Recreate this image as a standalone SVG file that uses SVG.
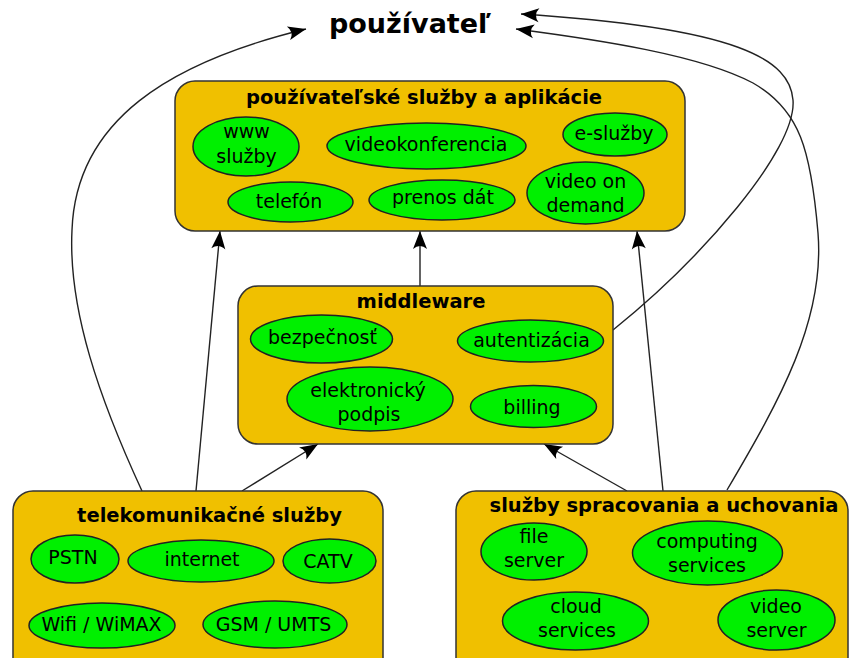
<svg xmlns="http://www.w3.org/2000/svg" width="850" height="658" viewBox="0 0 850 658">
  <defs>
    <marker id="arrow" markerUnits="userSpaceOnUse" viewBox="-19 -8 20 16" refX="0" refY="0" markerWidth="20" markerHeight="16" orient="auto">
      <path d="M0,0 L-18,-7 Q-12,0 -18,7 Z" fill="#000"/>
    </marker>
  </defs>
  <style>
    .box { fill: #f0c000; stroke: #333; stroke-width: 1.5; }
    .ell { fill: #00f000; stroke: #222; stroke-width: 1.5; }
    .t { font-family: "DejaVu Sans", Verdana, sans-serif; font-size: 19px; fill: #000; text-anchor: middle; }
    .h { font-family: "DejaVu Sans", Verdana, sans-serif; font-size: 19.5px; font-weight: bold; fill: #000; text-anchor: middle; }
    .c { fill: none; stroke: #222; stroke-width: 1.4; marker-end: url(#arrow); }
  </style>
  <rect width="850" height="658" fill="#fff"/>

  <!-- connectors -->
  <g id="connectors">
    <path class="c" d="M142,491 C100,400 68,310 72,230 C76,120 170,62 306,29"/>
    <path class="c" d="M196,491 L220,231"/>
    <path class="c" d="M242,491 L318,444"/>
    <path class="c" d="M420,286 L420,231"/>
    <path class="c" d="M663,491 L637,231"/>
    <path class="c" d="M627,491 L544,444"/>
    <path class="c" d="M613,330 C700,260 797,150 793,100 C790,60 740,28 521,14"/>
    <path class="c" d="M727,490 C780,400 825,320 818,233 C811,150 800,110 753,83 C700,55 600,40 516,29"/>
  </g>

  <!-- top label -->
  <g id="user">
    <text x="410" y="33" style="font-family:'DejaVu Sans',Verdana,sans-serif;font-size:27px;font-weight:bold;text-anchor:middle">používateľ</text>
  </g>

  <!-- user services and applications -->
  <g id="apps">
    <rect class="box" x="175" y="81" width="510" height="150" rx="20" ry="20"/>
    <text class="h" x="424" y="104">používateľské služby a aplikácie</text>
    <g id="www">
      <ellipse class="ell" cx="246" cy="146.5" rx="53" ry="29.5"/>
      <text class="t" x="246.5" y="138">www</text>
      <text class="t" x="246.5" y="163">služby</text>
    </g>
    <g id="videokonferencia">
      <ellipse class="ell" cx="426.5" cy="146" rx="99.5" ry="23"/>
      <text class="t" x="426" y="151">videokonferencia</text>
    </g>
    <g id="esluzby">
      <ellipse class="ell" cx="615" cy="134.5" rx="52" ry="21.5"/>
      <text class="t" x="614" y="140">e-služby</text>
    </g>
    <g id="telefon">
      <ellipse class="ell" cx="290.5" cy="202" rx="62.5" ry="20"/>
      <text class="t" x="289" y="208">telefón</text>
    </g>
    <g id="prenos">
      <ellipse class="ell" cx="442" cy="200" rx="73" ry="20"/>
      <text class="t" x="443" y="204">prenos dát</text>
    </g>
    <g id="vod">
      <ellipse class="ell" cx="585.5" cy="193" rx="58.5" ry="31"/>
      <text class="t" x="585.5" y="188">video on</text>
      <text class="t" x="585.5" y="212">demand</text>
    </g>
  </g>

  <!-- middleware -->
  <g id="middleware">
    <rect class="box" x="238" y="286" width="375" height="158" rx="20" ry="20"/>
    <text class="h" x="421" y="308">middleware</text>
    <g id="bezpecnost">
      <ellipse class="ell" cx="321.5" cy="339" rx="71" ry="24"/>
      <text class="t" x="322.5" y="344">bezpečnosť</text>
    </g>
    <g id="autentizacia">
      <ellipse class="ell" cx="530.5" cy="341" rx="73" ry="21"/>
      <text class="t" x="531.5" y="347">autentizácia</text>
    </g>
    <g id="podpis">
      <ellipse class="ell" cx="370" cy="399" rx="83" ry="32"/>
      <text class="t" x="368" y="397">elektronický</text>
      <text class="t" x="369" y="421">podpis</text>
    </g>
    <g id="billing">
      <ellipse class="ell" cx="533.5" cy="406.5" rx="63" ry="21"/>
      <text class="t" x="532" y="414">billing</text>
    </g>
  </g>

  <!-- telecommunication services -->
  <g id="telekom">
    <rect class="box" x="13" y="491" width="370" height="190" rx="20" ry="20"/>
    <text class="h" x="209.5" y="522">telekomunikačné služby</text>
    <g id="pstn">
      <ellipse class="ell" cx="75" cy="559" rx="44" ry="24"/>
      <text class="t" x="73" y="564">PSTN</text>
    </g>
    <g id="internet">
      <ellipse class="ell" cx="201" cy="561" rx="73" ry="21"/>
      <text class="t" x="202" y="566">internet</text>
    </g>
    <g id="catv">
      <ellipse class="ell" cx="329.5" cy="561" rx="46.5" ry="22"/>
      <text class="t" x="328" y="568">CATV</text>
    </g>
    <g id="wifi">
      <ellipse class="ell" cx="102" cy="625.5" rx="73" ry="22.5"/>
      <text class="t" x="101.5" y="631">Wifi / WiMAX</text>
    </g>
    <g id="gsm">
      <ellipse class="ell" cx="275" cy="624.5" rx="72" ry="23.5"/>
      <text class="t" x="273.5" y="631">GSM / UMTS</text>
    </g>
  </g>

  <!-- processing and storage services -->
  <g id="spracovanie">
    <rect class="box" x="456" y="491" width="392" height="190" rx="20" ry="20"/>
    <text class="h" x="664" y="512">služby spracovania a uchovania</text>
    <g id="fileserver">
      <ellipse class="ell" cx="534" cy="551.5" rx="53" ry="28.5"/>
      <text class="t" x="534" y="543">file</text>
      <text class="t" x="534" y="567">server</text>
    </g>
    <g id="computing">
      <ellipse class="ell" cx="707.5" cy="553" rx="75" ry="32"/>
      <text class="t" x="707" y="548">computing</text>
      <text class="t" x="707" y="572">services</text>
    </g>
    <g id="cloud">
      <ellipse class="ell" cx="575.5" cy="621" rx="73" ry="29"/>
      <text class="t" x="576" y="613">cloud</text>
      <text class="t" x="577" y="637">services</text>
    </g>
    <g id="videoserver">
      <ellipse class="ell" cx="776.5" cy="620" rx="58.5" ry="30"/>
      <text class="t" x="776" y="613">video</text>
      <text class="t" x="776.5" y="637">server</text>
    </g>
  </g>
</svg>
